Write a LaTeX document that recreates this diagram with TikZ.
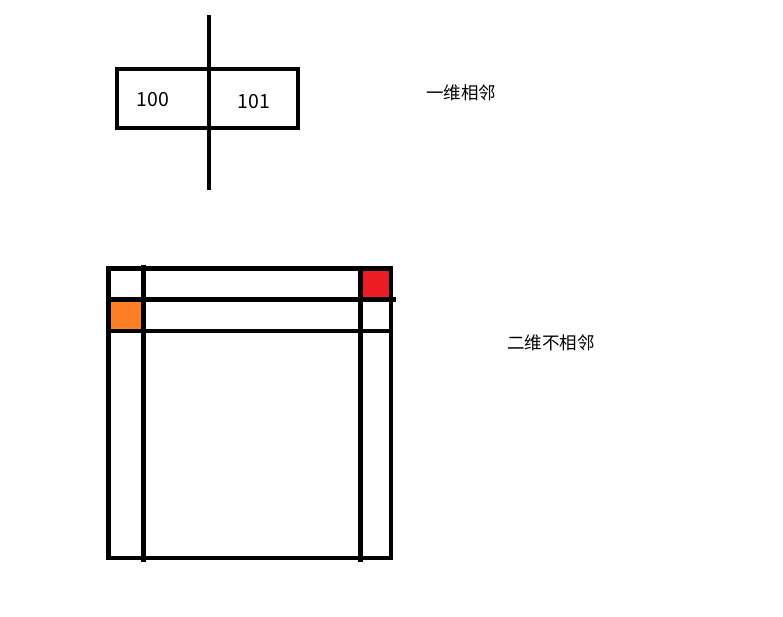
\documentclass[tikz,border=0pt]{standalone}
\usepackage{fontspec}
\newfontfamily\cjk{Noto Sans CJK SC}
\definecolor{paintorange}{HTML}{FF7F27}
\definecolor{paintred}{HTML}{ED1C24}
\tikzset{
  thick line/.style={line width=4.6pt, black},
  lbl/.style={font=\cjk\fontsize{17.5}{20}\selectfont, inner sep=0pt, anchor=center},
  num/.style={font=\cjk\fontsize{19.5}{22}\selectfont, inner sep=0pt, anchor=center},
}
\begin{document}
\begin{tikzpicture}[x=1pt,y=-1pt]
\useasboundingbox[fill=white] (0,0) rectangle (783,616);
% top: one-dimensional
\coordinate (r1a) at (117,69);
\coordinate (r1b) at (298,128);
\draw[thick line] (r1a) rectangle (r1b);
\coordinate (v1t) at (209,15);
\coordinate (v1b) at (209,190);
\draw[thick line] (v1t) -- (v1b);
\node[num] (n100) at (153,100) {100};
\node[num] (n101) at (254,102) {101};
\node[lbl] (t1) at (461,93) {一维相邻};
% bottom: two-dimensional
\fill[paintorange] (110.5,301.5) rectangle (141,328.5);
\fill[paintred] (363,270.5) rectangle (389.5,297);
\coordinate (g1) at (108.5,268.5);
\coordinate (g2) at (391,558);
\draw[thick line] (g1) rectangle (g2);
\coordinate (h1a) at (108.5,299.5);
\coordinate (h1b) at (396,299.5);
\draw[thick line] (h1a) -- (h1b);
\coordinate (h2a) at (108.5,331);
\coordinate (h2b) at (391,331);
\draw[thick line] (h2a) -- (h2b);
\coordinate (va1) at (143.5,264.5);
\coordinate (va2) at (143.5,562);
\draw[thick line] (va1) -- (va2);
\coordinate (vb1) at (360.5,268.5);
\coordinate (vb2) at (360.5,562);
\draw[thick line] (vb1) -- (vb2);
\node[lbl] (t2) at (551,343) {二维不相邻};
\end{tikzpicture}
\end{document}
